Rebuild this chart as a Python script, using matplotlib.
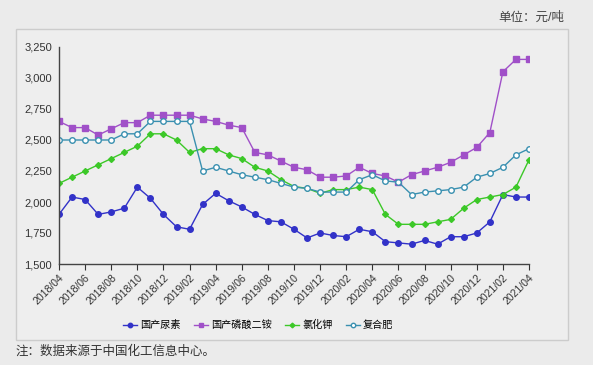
import numpy as np
import matplotlib.pyplot as plt
from matplotlib.patches import Rectangle

plt.rcParams['font.family'] = ['Liberation Sans', 'Noto Sans CJK SC', 'DejaVu Sans']

# monthly, 2018/04 .. 2021/04
months = [f"{2018 + (3 + i) // 12}/{(3 + i) % 12 + 1:02d}" for i in range(37)]

urea = [1900, 2040, 2020, 1900, 1920, 1950, 2120, 2030, 1900, 1800, 1780, 1980, 2070,
        2010, 1960, 1900, 1850, 1840, 1780, 1710, 1750, 1730, 1720, 1780, 1760, 1680,
        1670, 1660, 1690, 1660, 1720, 1720, 1750, 1840, 2060, 2040, 2040]
dap = [2650, 2600, 2600, 2540, 2590, 2640, 2640, 2700, 2700, 2700, 2700, 2670, 2650,
       2620, 2600, 2400, 2380, 2330, 2280, 2260, 2200, 2200, 2210, 2280, 2230, 2210,
       2160, 2220, 2250, 2280, 2320, 2380, 2440, 2560, 3050, 3150, 3150]
potash = [2150, 2200, 2250, 2300, 2350, 2400, 2450, 2550, 2550, 2500, 2400, 2430, 2430,
          2380, 2350, 2280, 2250, 2180, 2125, 2110, 2070, 2100, 2100, 2120, 2100, 1900,
          1820, 1820, 1820, 1840, 1860, 1950, 2020, 2040, 2060, 2120, 2340]
compound = [2500, 2500, 2500, 2500, 2500, 2550, 2550, 2650, 2650, 2650, 2650, 2250, 2280,
            2250, 2220, 2200, 2180, 2150, 2120, 2110, 2080, 2080, 2080, 2180, 2220, 2170,
            2160, 2060, 2080, 2090, 2100, 2120, 2200, 2230, 2280, 2380, 2430]

names = ['国产尿素', '国产磷酸二铵', '氯化钾', '复合肥']

fig = plt.figure(figsize=(5.93, 3.65), dpi=100)
fig.patch.set_facecolor('#ebebeb')
fig.patches.append(Rectangle((16 / 593, 1 - 340 / 365), 552 / 593, 311 / 365,
                             transform=fig.transFigure, facecolor='#eeeeee',
                             edgecolor='#cccccc', linewidth=1, zorder=-5))

ax = fig.add_axes([59 / 593, 1 - 264 / 365, 470 / 593, 217 / 365])
ax.set_facecolor('none')
x = np.arange(len(months))

ax.plot(x, urea, '-o', color='#3232c8', lw=1, ms=4, label=names[0])
ax.plot(x, dap, '-s', color='#a050c8', lw=1, ms=4, label=names[1])
ax.plot(x, potash, '-D', color='#3cc828', lw=1, ms=3, label=names[2])
ax.plot(x, compound, '-o', color='#3a90b0', lw=1, ms=4, mfc='white', mew=1, label=names[3])

ax.set_xlim(0, 36)
ax.set_ylim(1500, 3250)
ax.set_yticks(np.arange(1500, 3251, 250))
ax.set_yticklabels([f"{v:,}" for v in range(1500, 3251, 250)], fontsize=8, color='#333333')
ax.set_xticks(x[::2])
ax.set_xticklabels(months[::2], rotation=45, ha='right', rotation_mode='anchor',
                   fontsize=7.6, color='#333333')
ax.tick_params(axis='y', length=0, pad=5)
ax.tick_params(axis='x', length=4, color='#333333', pad=2)
for s in ['top', 'right']:
    ax.spines[s].set_visible(False)
for s in ['left', 'bottom']:
    ax.spines[s].set_color('#444444')
    ax.spines[s].set_linewidth(1)

fig.legend(loc='center', bbox_to_anchor=(258 / 593, 1 - 325 / 365), ncol=4, frameon=False,
           fontsize=7.3, handlelength=1.4, handletextpad=0.3, columnspacing=1.3,
           markerscale=0.8)

fig.text(531 / 593, 1 - 18 / 365, '单位：元/吨', fontsize=9, color='#444444', ha='center', va='center')
fig.text(16 / 593, 1 - 352 / 365, '注：数据来源于中国化工信息中心。', fontsize=9, color='#333333',
         ha='left', va='center')

fig.savefig('out.png', dpi=100, facecolor=fig.get_facecolor())
